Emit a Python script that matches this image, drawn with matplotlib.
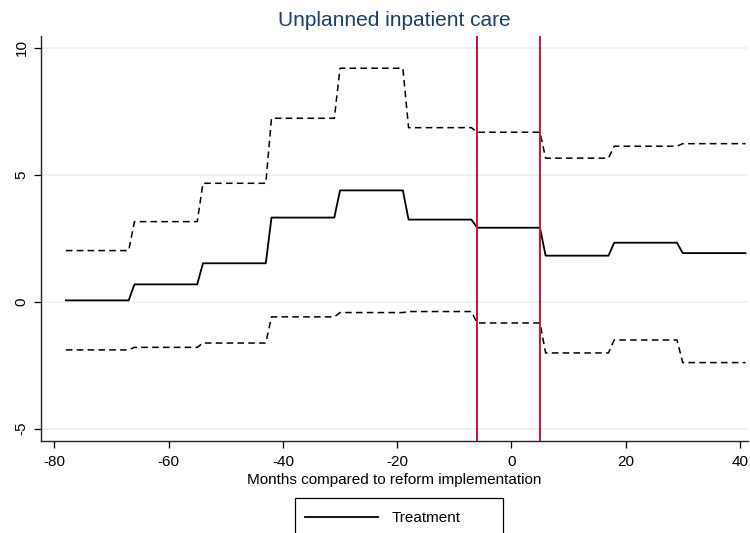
import numpy as np
import matplotlib
matplotlib.use("Agg")
import matplotlib.pyplot as plt
from matplotlib.patches import Rectangle

plt.rcParams["font.family"] = ["Liberation Sans", "DejaVu Sans"]
plt.rcParams["axes.unicode_minus"] = False

# months relative to the reform, one point per month
months = np.arange(-78, 42)

# estimate per 12-month period (periods start at -78, -66, ..., 30)
treatment = [0.05, 0.68, 1.51, 3.31, 4.38, 3.23, 2.91, 1.81, 2.32, 1.91]
upper_ci = [2.01, 3.15, 4.66, 7.22, 9.19, 6.85, 6.67, 5.65, 6.12, 6.22]
lower_ci = [-1.90, -1.80, -1.63, -0.60, -0.43, -0.39, -0.84, -2.02, -1.51, -2.40]

reform_lines = [-6, 5]

treat_m = np.repeat(treatment, 12)
upper_m = np.repeat(upper_ci, 12)
lower_m = np.repeat(lower_ci, 12)

fig = plt.figure(figsize=(7.5, 5.33), dpi=100)
ax = fig.add_axes([0.0551, 0.172, 0.942, 0.7605])

# grid
for yv in [-5, 0, 5, 10]:
    ax.axhline(yv, color="#eaf2f3", lw=1.2, zorder=0)

dash = (0, (4.3, 2.8))
ax.plot(months, upper_m, color="black", lw=1.1, ls=dash)
ax.plot(months, lower_m, color="black", lw=1.1, ls=dash)
line_t, = ax.plot(months, treat_m, color="black", lw=1.3, label="Treatment")

for xv in reform_lines:
    ax.axvline(xv, color="#d0103a", lw=1.4)

ax.set_xlim(-82.3, 41.4)
ax.set_ylim(-5.5, 10.46)
ax.set_xticks([-80, -60, -40, -20, 0, 20, 40])
ax.set_yticks([-5, 0, 5, 10])
ax.set_yticklabels(["-5", "0", "5", "10"], rotation=90, va="center")
ax.tick_params(axis="both", direction="out", length=5, width=0.9, labelsize=11, colors="black")
ax.tick_params(axis="y", pad=4)
ax.tick_params(axis="x", pad=5)

for s in ["top", "right"]:
    ax.spines[s].set_visible(False)
for s in ["left", "bottom"]:
    ax.spines[s].set_linewidth(1.0)
    ax.spines[s].set_color("#222222")

ax.set_xlabel("Months compared to reform implementation", fontsize=11, labelpad=3)
ax.set_title("Unplanned inpatient care", fontsize=15, color="#1a3d6e", pad=7)

# legend box runs off the bottom edge, as in the original
leg = fig.legend(handles=[line_t], loc="upper left",
                 bbox_to_anchor=(295 / 750, 1 - 501 / 533),
                 fontsize=11, handlelength=4.8, handletextpad=0.85,
                 borderpad=0.65, borderaxespad=0, frameon=False)
fig.add_artist(Rectangle((295 / 750, -0.05), 208 / 750, 0.05 + 1 - 498 / 533,
                         transform=fig.transFigure, fill=False,
                         edgecolor="black", linewidth=0.9))

fig.savefig("out.png", dpi=100)
